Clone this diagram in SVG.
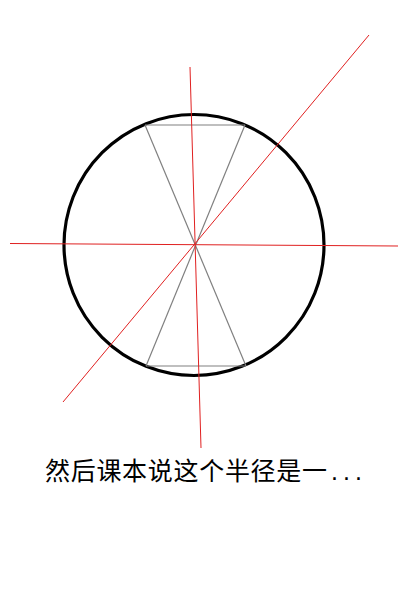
<svg xmlns="http://www.w3.org/2000/svg" width="400" height="600" viewBox="0 0 400 600">
<style>
.red{stroke:#e02020;stroke-width:1;fill:none}
.gray{stroke:#808080;stroke-width:1.2;fill:none}
.txt{font-family:"Liberation Sans","Noto Sans CJK SC",sans-serif;font-size:25px;fill:#000}
</style>
<rect width="400" height="600" fill="#fff"/>
<g id="circle">
<ellipse cx="194" cy="245" rx="130" ry="130.5" fill="none" stroke="#000" stroke-width="3.2"/>
</g>
<g id="chords">
<line class="gray" x1="145" y1="125" x2="245" y2="125"/>
<line class="gray" x1="146" y1="366" x2="246" y2="366"/>
<line class="gray" x1="145" y1="125" x2="246" y2="366"/>
<line class="gray" x1="245" y1="125" x2="146" y2="366"/>
</g>
<g id="connectors">
<line class="red" x1="190" y1="67" x2="201" y2="448"/>
<line class="red" x1="10" y1="243.5" x2="398" y2="246"/>
<line class="red" x1="63" y1="402" x2="369" y2="35"/>
</g>
<g id="caption">
<text class="txt" x="45" y="480"><tspan textLength="282" lengthAdjust="spacing">然后课本说这个半径是一</tspan><tspan x="331">.</tspan><tspan x="343">.</tspan><tspan x="355">.</tspan></text>
</g>
</svg>
